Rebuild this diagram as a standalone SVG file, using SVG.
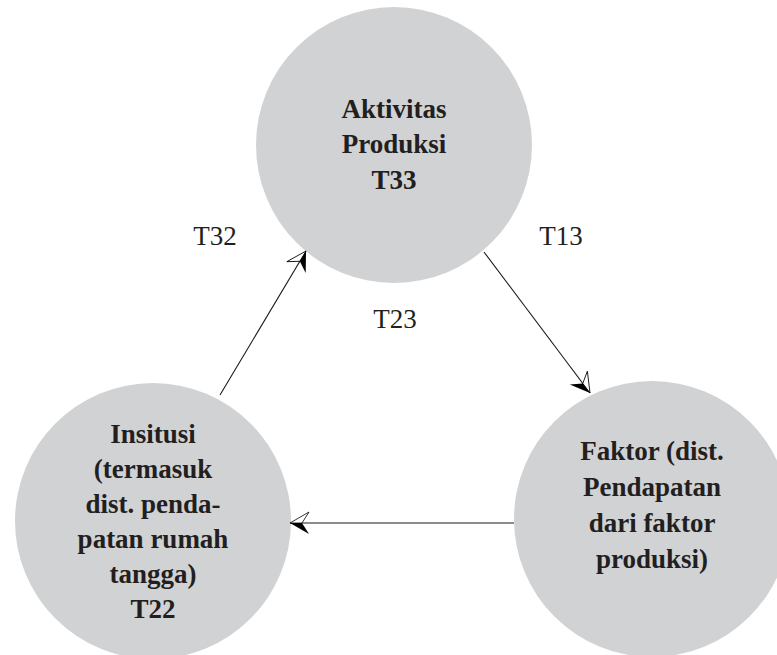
<svg xmlns="http://www.w3.org/2000/svg" width="777" height="655" viewBox="0 0 777 655">
<style>
.node circle{fill:#d1d2d4;}
.lbl{font-family:"Liberation Serif","Times New Roman",serif;font-weight:bold;font-size:27px;fill:#231f20;text-anchor:middle;}
.edge-lbl{font-family:"Liberation Serif","Times New Roman",serif;font-size:27px;fill:#231f20;text-anchor:middle;}
.conn{stroke:#1a1a1a;stroke-width:1.1;fill:none;}
</style>
<defs>
<marker id="arrA" markerUnits="userSpaceOnUse" orient="auto" viewBox="-21 -12 22 24" markerWidth="22" markerHeight="24" refX="0" refY="0" overflow="visible">
<path d="M0,0 L-19,-11 L-12,0 Z" fill="#fff" stroke="#000" stroke-width="0.8"/>
<path d="M0,0 L-12,0 L-19,11 Z" fill="#000"/>
</marker>
<marker id="arrB" markerUnits="userSpaceOnUse" orient="auto" viewBox="-21 -12 22 24" markerWidth="22" markerHeight="24" refX="0" refY="0" overflow="visible">
<path d="M0,0 L-19,11 L-12,0 Z" fill="#fff" stroke="#000" stroke-width="0.8"/>
<path d="M0,0 L-12,0 L-19,-11 Z" fill="#000"/>
</marker>
</defs>
<g id="node-aktivitas" class="node">
<circle cx="394" cy="145" r="138"/>
<text class="lbl" x="394" y="118">Aktivitas</text>
<text class="lbl" x="394" y="153">Produksi</text>
<text class="lbl" x="394" y="189">T33</text>
</g>
<g id="node-insitusi" class="node">
<circle cx="153" cy="521" r="138"/>
<text class="lbl" x="153" y="443">Insitusi</text>
<text class="lbl" x="153" y="478">(termasuk</text>
<text class="lbl" x="153" y="513">dist. penda-</text>
<text class="lbl" x="153" y="548">patan rumah</text>
<text class="lbl" x="153" y="583">tangga)</text>
<text class="lbl" x="153" y="618">T22</text>
</g>
<g id="node-faktor" class="node">
<circle cx="652" cy="519" r="138"/>
<text class="lbl" x="652" y="460">Faktor (dist.</text>
<text class="lbl" x="652" y="496">Pendapatan</text>
<text class="lbl" x="652" y="532">dari faktor</text>
<text class="lbl" x="652" y="568">produksi)</text>
</g>
<g id="connectors">
<line class="conn" x1="220" y1="395" x2="306" y2="251" marker-end="url(#arrA)"/>
<line class="conn" x1="484" y1="252" x2="590" y2="393" marker-end="url(#arrA)"/>
<line class="conn" x1="514" y1="523" x2="290" y2="523" marker-end="url(#arrB)"/>
</g>
<g id="labels">
<text class="edge-lbl" x="215" y="245">T32</text>
<text class="edge-lbl" x="561" y="245">T13</text>
<text class="edge-lbl" x="395" y="328">T23</text>
</g>
</svg>
